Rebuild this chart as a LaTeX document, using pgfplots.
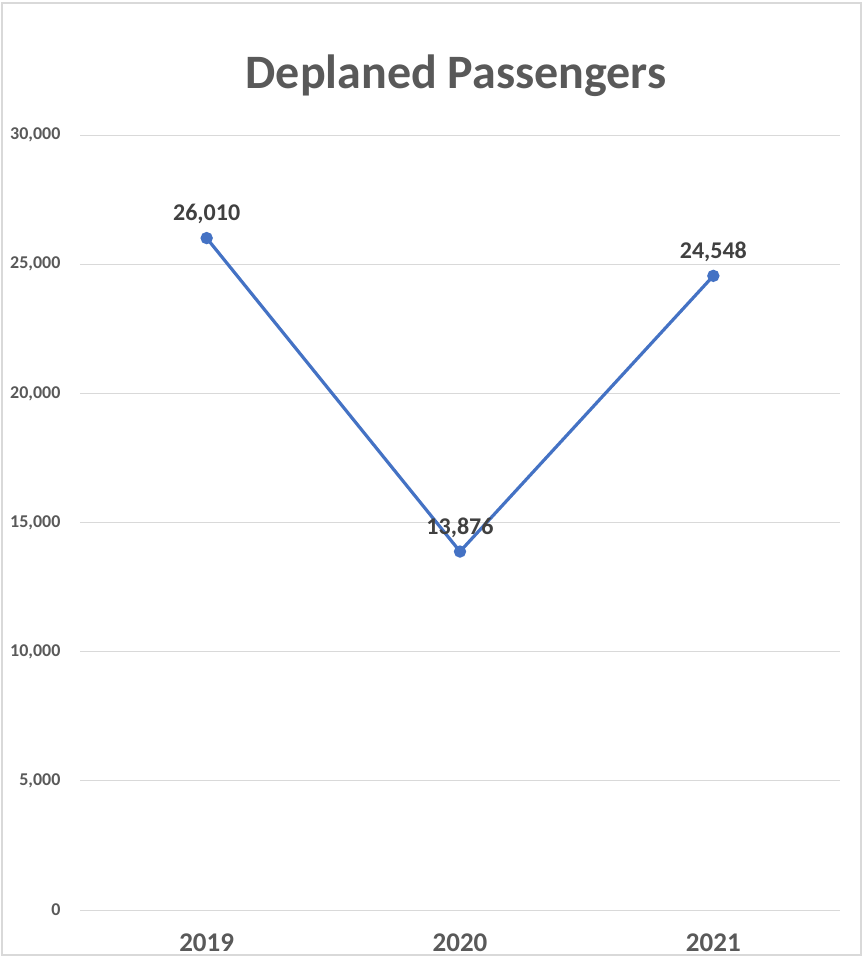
\documentclass[border=0pt]{standalone}
\usepackage{pgfplots}
\pgfplotsset{compat=1.18}
\usepackage{fontspec}
\setmainfont{Carlito}
\definecolor{linec}{HTML}{4472C4}
\definecolor{titlec}{HTML}{595959}
\definecolor{labc}{HTML}{404040}
\definecolor{gridc}{HTML}{D9D9D9}
\begin{document}
\begin{tikzpicture}[x=1pt,y=1pt]
\useasboundingbox (0,0) rectangle (867,-956);
\draw[gridc, line width=1.2pt] (2,-3) rectangle (861,-955);
\node[font=\fontsize{48}{52}\selectfont\bfseries, text=titlec] at (456,-76) {Deplaned Passengers};
\begin{axis}[
  at={(80pt,-910pt)}, anchor=south west,
  scale only axis, width=760pt, height=775pt,
  xmin=-0.5, xmax=2.5, ymin=0, ymax=30000,
  xtick={0,1,2}, xticklabels={2019,2020,2021},
  ytick={0,5000,10000,15000,20000,25000,30000},
  axis line style={draw=none},
  major tick length=0pt,
  ymajorgrids, grid style={gridc, line width=1pt},
  /pgf/number format/assume math mode=true,
  /pgf/number format/1000 sep={,},
  scaled y ticks=false,
  yticklabel style={font=\fontsize{18}{20}\selectfont\bfseries, text=titlec, xshift=-16pt},
  xticklabel style={font=\fontsize{27}{30}\selectfont\bfseries, text=titlec, yshift=-20pt},
  nodes near coords,
  every node near coord/.append style={font=\fontsize{24}{27}\selectfont\bfseries, text=labc, anchor=south, yshift=9pt, /pgf/number format/1000 sep={,}, /pgf/number format/assume math mode=true},
  clip=false,
]
\addplot[linec, line width=3.2pt, mark=*, mark size=4.5pt, mark options={fill=linec, draw=linec}] coordinates {(0,26010) (1,13876) (2,24548)};
\end{axis}
\end{tikzpicture}
\end{document}
